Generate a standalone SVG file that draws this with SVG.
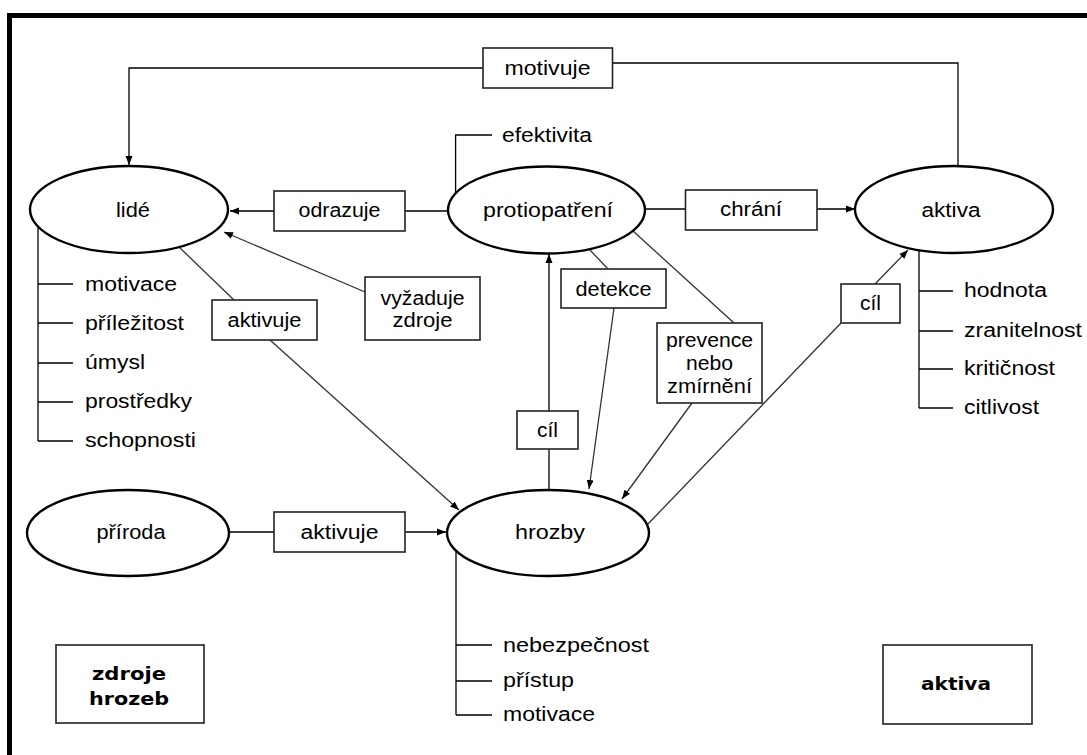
<svg xmlns="http://www.w3.org/2000/svg" width="1087" height="755" viewBox="0 0 1087 755">
<defs>
<marker id="arr" markerUnits="userSpaceOnUse" markerWidth="10" markerHeight="8" refX="9" refY="4" orient="auto">
<path d="M0,0.5 L9,4 L0,7.5 Z" fill="#000"/>
</marker>
<style>
.ell{fill:#fff;stroke:#000;stroke-width:2.4}
.box{fill:#fff;stroke:#222;stroke-width:1.6}
.ln{fill:none;stroke:#000;stroke-width:1.3}
.dg{fill:none;stroke:#333;stroke-width:1.3}
.t{font-family:"Liberation Sans",Arial,sans-serif;font-size:19.5px;fill:#000}
.m{text-anchor:middle}
.b{font-family:"DejaVu Sans",Verdana,sans-serif;font-size:18.5px;font-weight:bold;fill:#000;text-anchor:middle}
</style>
</defs>
<rect x="0" y="0" width="1087" height="755" fill="#fff"/>
<path d="M9.5,755 V15.5 H1087" fill="none" stroke="#000" stroke-width="5"/>

<g id="connectors">
<path class="ln" d="M958,166 V63 H612"/>
<path class="ln" d="M483,68 H129 V165" marker-end="url(#arr)"/>
<path class="ln" d="M455.6,193 V135 H492"/>
<path class="ln" d="M448,211 H405"/>
<path class="ln" d="M274,211 H230" marker-end="url(#arr)"/>
<path class="ln" d="M645,209 H685"/>
<path class="ln" d="M817,209 H855" marker-end="url(#arr)"/>
<path class="dg" d="M179,247 L234,300"/>
<path class="dg" d="M270,340 L459,510" marker-end="url(#arr)"/>
<path class="dg" d="M365,292 L224,232" marker-end="url(#arr)"/>
<path class="dg" d="M589,249 L608,269"/>
<path class="dg" d="M614,308 L589,489" marker-end="url(#arr)"/>
<path class="ln" d="M549,490 V254" marker-end="url(#arr)"/>
<path class="dg" d="M633,231 L734,323"/>
<path class="dg" d="M692,403 L622,499" marker-end="url(#arr)"/>
<path class="dg" d="M648,524 L841,323"/>
<path class="dg" d="M875,284 L908,250" marker-end="url(#arr)"/>
<path class="ln" d="M229,532 H274"/>
<path class="ln" d="M405,532 H446" marker-end="url(#arr)"/>
<path class="ln" d="M38,227 V441 M38,284 H73 M38,323 H73 M38,363 H73 M38,402 H73 M38,441 H73"/>
<path class="ln" d="M919,250 V408 M919,291 H953 M919,331 H953 M919,369 H953 M919,408 H953"/>
<path class="ln" d="M456,551 V715 M456,645 H492 M456,681 H492 M456,715 H492"/>
</g>

<g id="lide">
<ellipse class="ell" cx="129" cy="209.5" rx="99" ry="43.5"/>
<text class="t m" x="133" y="217" textLength="34" lengthAdjust="spacingAndGlyphs">lidé</text>
</g>
<g id="protiopatreni">
<ellipse class="ell" cx="546.5" cy="210" rx="98.5" ry="43.5"/>
<text class="t m" x="548" y="217" textLength="130" lengthAdjust="spacingAndGlyphs">protiopatření</text>
</g>
<g id="aktiva">
<ellipse class="ell" cx="954" cy="209.5" rx="99" ry="43.5"/>
<text class="t m" x="951" y="217" textLength="59" lengthAdjust="spacingAndGlyphs">aktiva</text>
</g>
<g id="priroda">
<ellipse class="ell" cx="128" cy="533" rx="101" ry="43"/>
<text class="t m" x="131" y="539" textLength="69" lengthAdjust="spacingAndGlyphs">příroda</text>
</g>
<g id="hrozby">
<ellipse class="ell" cx="548" cy="533" rx="101" ry="43"/>
<text class="t m" x="550" y="539" textLength="70" lengthAdjust="spacingAndGlyphs">hrozby</text>
</g>

<g id="lbl-motivuje">
<rect class="box" x="483" y="48" width="129.5" height="40"/>
<text class="t m" x="547.5" y="75" textLength="86" lengthAdjust="spacingAndGlyphs">motivuje</text>
</g>
<g id="lbl-efektivita">
<text class="t" x="502" y="142" textLength="90" lengthAdjust="spacingAndGlyphs">efektivita</text>
</g>
<g id="lbl-odrazuje">
<rect class="box" x="274" y="191" width="131" height="40"/>
<text class="t m" x="339.5" y="217" textLength="82" lengthAdjust="spacingAndGlyphs">odrazuje</text>
</g>
<g id="lbl-chrani">
<rect class="box" x="685.5" y="190" width="131.5" height="40"/>
<text class="t m" x="751" y="216" textLength="62" lengthAdjust="spacingAndGlyphs">chrání</text>
</g>
<g id="lbl-aktivuje1">
<rect class="box" x="212" y="300" width="105" height="40"/>
<text class="t m" x="264.5" y="327" textLength="74" lengthAdjust="spacingAndGlyphs">aktivuje</text>
</g>
<g id="lbl-vyzaduje">
<rect class="box" x="365" y="277" width="115" height="63"/>
<text class="t m" x="422.5" y="305" textLength="84" lengthAdjust="spacingAndGlyphs">vyžaduje</text>
<text class="t m" x="422.5" y="327" textLength="60" lengthAdjust="spacingAndGlyphs">zdroje</text>
</g>
<g id="lbl-detekce">
<rect class="box" x="561" y="269" width="105" height="39"/>
<text class="t m" x="613.5" y="296" textLength="76" lengthAdjust="spacingAndGlyphs">detekce</text>
</g>
<g id="lbl-cil1">
<rect class="box" x="517" y="411" width="61" height="38"/>
<text class="t m" x="547.5" y="437" textLength="21" lengthAdjust="spacingAndGlyphs">cíl</text>
</g>
<g id="lbl-prevence">
<rect class="box" x="657" y="323" width="105" height="80"/>
<text class="t m" x="709.5" y="347" textLength="87" lengthAdjust="spacingAndGlyphs">prevence</text>
<text class="t m" x="709.5" y="370" textLength="47" lengthAdjust="spacingAndGlyphs">nebo</text>
<text class="t m" x="709.5" y="393" textLength="85" lengthAdjust="spacingAndGlyphs">zmírnění</text>
</g>
<g id="lbl-cil2">
<rect class="box" x="841" y="284" width="59" height="39"/>
<text class="t m" x="870.5" y="310" textLength="21" lengthAdjust="spacingAndGlyphs">cíl</text>
</g>
<g id="lbl-aktivuje2">
<rect class="box" x="274" y="512" width="131" height="40"/>
<text class="t m" x="339.5" y="539" textLength="78" lengthAdjust="spacingAndGlyphs">aktivuje</text>
</g>

<g id="attr-lide">
<text class="t" x="85" y="291" textLength="92" lengthAdjust="spacingAndGlyphs">motivace</text>
<text class="t" x="85" y="330" textLength="99" lengthAdjust="spacingAndGlyphs">příležitost</text>
<text class="t" x="85" y="369" textLength="60" lengthAdjust="spacingAndGlyphs">úmysl</text>
<text class="t" x="85" y="408" textLength="107" lengthAdjust="spacingAndGlyphs">prostředky</text>
<text class="t" x="85" y="447" textLength="111" lengthAdjust="spacingAndGlyphs">schopnosti</text>
</g>
<g id="attr-aktiva">
<text class="t" x="964" y="297" textLength="83" lengthAdjust="spacingAndGlyphs">hodnota</text>
<text class="t" x="964" y="337" textLength="118" lengthAdjust="spacingAndGlyphs">zranitelnost</text>
<text class="t" x="964" y="375" textLength="91" lengthAdjust="spacingAndGlyphs">kritičnost</text>
<text class="t" x="964" y="414" textLength="75" lengthAdjust="spacingAndGlyphs">citlivost</text>
</g>
<g id="attr-hrozby">
<text class="t" x="503" y="652" textLength="146" lengthAdjust="spacingAndGlyphs">nebezpečnost</text>
<text class="t" x="503" y="687" textLength="71" lengthAdjust="spacingAndGlyphs">přístup</text>
<text class="t" x="503" y="721" textLength="92" lengthAdjust="spacingAndGlyphs">motivace</text>
</g>

<g id="legend-zdroje">
<rect class="box" x="56" y="645" width="148" height="78"/>
<text class="b" x="129" y="680" textLength="74" lengthAdjust="spacingAndGlyphs">zdroje</text>
<text class="b" x="129" y="705" textLength="80" lengthAdjust="spacingAndGlyphs">hrozeb</text>
</g>
<g id="legend-aktiva">
<rect class="box" x="883" y="645" width="149" height="79"/>
<text class="b" x="956" y="690" textLength="70" lengthAdjust="spacingAndGlyphs">aktiva</text>
</g>
</svg>
